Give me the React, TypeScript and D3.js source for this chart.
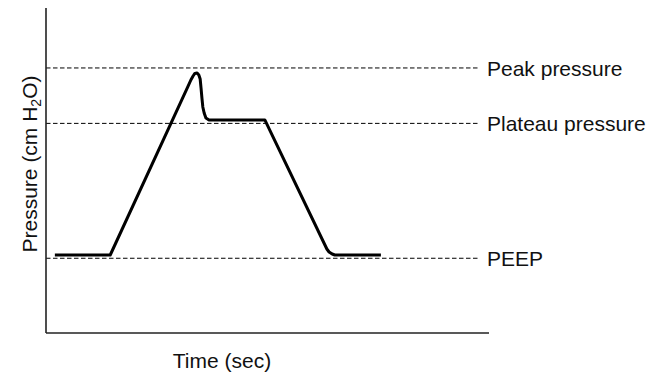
import React from "react";
import * as d3 from "d3";

// Waveform (time in arbitrary units, pressure in arbitrary cm H2O units)
const times = [0.2, 1.45, 3.2, 3.27, 3.32, 3.36, 3.41, 3.45, 3.48, 3.5, 3.52, 3.54, 3.57, 3.61, 3.68, 4.94, 6.34, 6.39, 6.46, 6.52, 7.56];
const pressures = [9.6, 9.6, 30.28, 31.14, 31.63, 31.94, 32.0, 31.75, 31.26, 30.15, 28.92, 27.82, 27.08, 26.46, 26.22, 26.22, 10.34, 9.97, 9.72, 9.6, 9.6];

// Reference lines
const refLabels = ["Peak pressure", "Plateau pressure", "PEEP"];
const refValues = [32.62, 25.8, 9.2];

const xLabel = "Time (sec)";

const W = 654;
const H = 375;
const FONT = "'Liberation Sans', Arial, Helvetica, sans-serif";

export default function App() {
  const x = d3.scaleLinear().domain([0, 10]).range([46, 489]);
  const y = d3.scaleLinear().domain([0, 40]).range([333, 8]);
  const pts: [number, number][] = times.map((t, i) => [t, pressures[i]]);
  const line = d3
    .line<[number, number]>()
    .x((d) => x(d[0]))
    .y((d) => y(d[1]))
    .curve(d3.curveLinear);
  const refEnd = x(9.75);

  return (
    <svg
      width={W}
      height={H}
      style={{ position: "absolute", left: 0, top: 0, background: "#fff" }}
      fontFamily={FONT}
    >
      {refValues.map((v, i) => (
        <g key={refLabels[i]}>
          <line
            x1={x(0)}
            x2={refEnd}
            y1={y(v)}
            y2={y(v)}
            stroke="#000"
            strokeWidth={1}
            strokeDasharray="4.5,2.5"
          />
          <text x={487} y={y(v) + 8} fontSize={21} fill="#111">
            {refLabels[i]}
          </text>
        </g>
      ))}
      <path d={line(pts) || ""} fill="none" stroke="#000" strokeWidth={3} strokeLinejoin="round" />
      {/* axes */}
      <line x1={x(0)} x2={x(0)} y1={y(40)} y2={y(0)} stroke="#222" strokeWidth={1.6} />
      <line x1={x(0)} x2={x(10)} y1={y(0)} y2={y(0)} stroke="#222" strokeWidth={1.6} />
      <text x={222} y={368} fontSize={21} textAnchor="middle" fill="#111">
        {xLabel}
      </text>
      <text
        transform="translate(37,164) rotate(-90)"
        fontSize={21}
        textAnchor="middle"
        fill="#111"
      >
        Pressure (cm H
        <tspan fontSize={14} dy={4}>2</tspan>
        <tspan dy={-4}>O)</tspan>
      </text>
    </svg>
  );
}
